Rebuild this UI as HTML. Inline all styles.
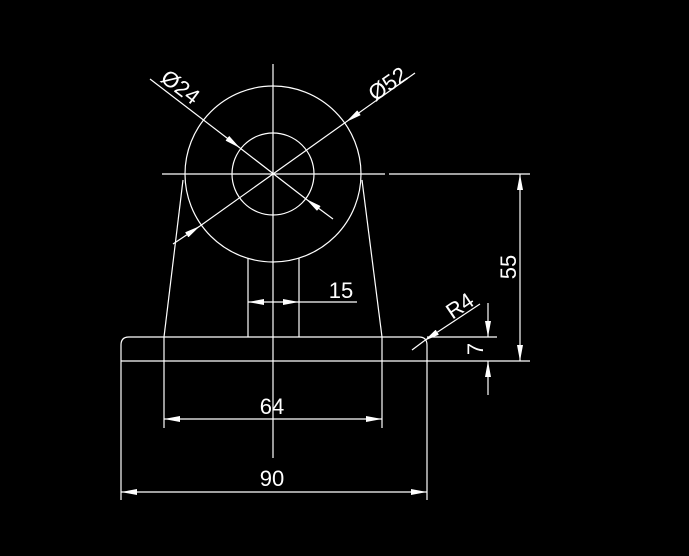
<!DOCTYPE html>
<html><head><style>html,body{margin:0;padding:0;background:#000;}svg{display:block}</style></head>
<body>
<svg width="689" height="556" xmlns="http://www.w3.org/2000/svg">
<defs>
<marker id="a" viewBox="0 0 16 6" refX="16" refY="3" markerWidth="16" markerHeight="6" markerUnits="userSpaceOnUse" orient="auto"><path d="M0,0L16,3L0,6z" fill="#fff"/></marker>
</defs>
<rect width="689" height="556" fill="#000"/>
<g stroke="#fff" stroke-width="1.2" fill="none">
<line x1="273" y1="64" x2="273" y2="458"/>
<line x1="162" y1="174" x2="385" y2="174"/>
<line x1="389" y1="174" x2="530" y2="174"/>
<circle cx="273" cy="174" r="88"/>
<circle cx="273" cy="174" r="41"/>
<line x1="183" y1="180" x2="164" y2="337"/>
<line x1="362" y1="180" x2="382" y2="337"/>
<line x1="248" y1="258" x2="248" y2="337"/>
<line x1="299" y1="258" x2="299" y2="337"/>
<path d="M121,361 L121,345 Q121,337 129,337 L419,337 Q427,337 427,345 L427,361"/>
<line x1="121" y1="361" x2="530" y2="361"/>
<line x1="427" y1="337" x2="497" y2="337"/>
<line x1="164" y1="337" x2="164" y2="428"/>
<line x1="382" y1="337" x2="382" y2="428"/>
<line x1="121" y1="361" x2="121" y2="500"/>
<line x1="427" y1="361" x2="427" y2="500"/>
<line x1="190" y1="419" x2="164" y2="419" marker-end="url(#a)"/>
<line x1="190" y1="419" x2="382" y2="419" marker-end="url(#a)"/>
<line x1="150" y1="492" x2="121" y2="492" marker-end="url(#a)"/>
<line x1="150" y1="492" x2="427" y2="492" marker-end="url(#a)"/>
<line x1="273" y1="302" x2="248" y2="302" marker-end="url(#a)"/>
<line x1="273" y1="302" x2="299" y2="302" marker-end="url(#a)"/>
<line x1="299" y1="302" x2="357" y2="302"/>
<line x1="520" y1="260" x2="520" y2="174" marker-end="url(#a)"/>
<line x1="520" y1="260" x2="520" y2="361" marker-end="url(#a)"/>
<line x1="488" y1="303" x2="488" y2="337" marker-end="url(#a)"/>
<line x1="488" y1="395" x2="488" y2="361" marker-end="url(#a)"/>
<line x1="480" y1="304" x2="424" y2="341" marker-end="url(#a)"/>
<line x1="424" y1="341" x2="412" y2="350"/>
<line x1="150" y1="79" x2="240" y2="148" marker-end="url(#a)"/>
<line x1="240" y1="148" x2="306" y2="199"/>
<line x1="333" y1="219" x2="306" y2="199" marker-end="url(#a)"/>
<line x1="415" y1="73" x2="346" y2="122" marker-end="url(#a)"/>
<line x1="346" y1="122" x2="200" y2="226"/>
<line x1="173" y1="244" x2="200" y2="226" marker-end="url(#a)"/>
</g>
<g fill="#fff" font-family="Liberation Sans, sans-serif" font-size="22">
<text x="272" y="414" text-anchor="middle">64</text>
<text x="272" y="486" text-anchor="middle">90</text>
<text x="341" y="298" text-anchor="middle">15</text>
<text transform="translate(516,267) rotate(-90)" text-anchor="middle">55</text>
<text transform="translate(483,349) rotate(-90)" text-anchor="middle">7</text>
<text transform="translate(464,312) rotate(-34)" text-anchor="middle">R4</text>
<text transform="translate(176,93) rotate(37)" text-anchor="middle">Ø24</text>
<text transform="translate(392,90) rotate(-35)" text-anchor="middle">Ø52</text>
</g>
</svg>
</body></html>
